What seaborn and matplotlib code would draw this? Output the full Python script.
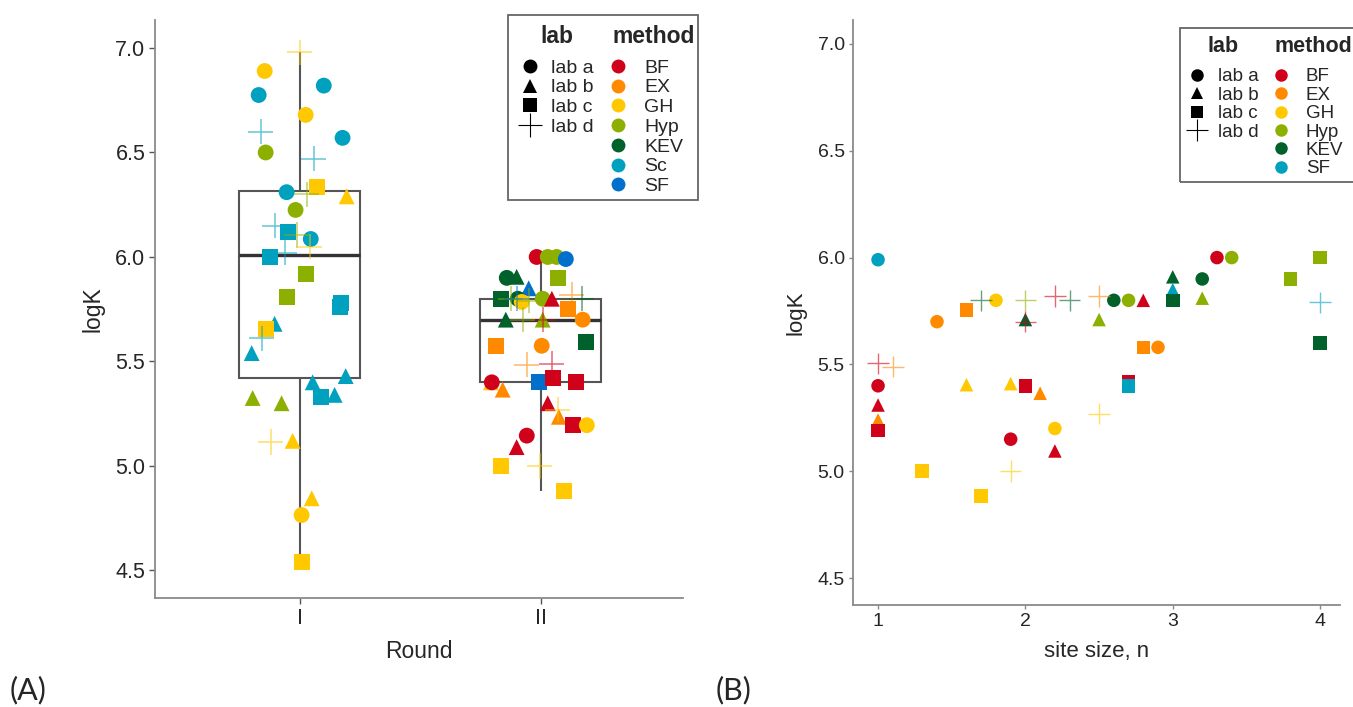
import pandas as pd
import matplotlib
matplotlib.use('Agg')
import matplotlib.pyplot as plt
from matplotlib.lines import Line2D
from matplotlib.patches import Rectangle
import seaborn as sns

# ---- panel A data: round I ----
r1_method = ['GH', 'GH', 'Sc', 'Sc', 'GH', 'Sc', 'Sc', 'Hyp', 'Sc', 'Sc',
             'GH', 'Hyp', 'GH', 'Hyp', 'Sc', 'Sc', 'Hyp', 'Sc', 'GH', 'Sc',
             'Sc', 'Hyp', 'Hyp', 'Sc', 'Sc', 'Sc', 'GH', 'Sc', 'Sc', 'Sc',
             'Sc', 'Sc', 'Sc', 'Hyp', 'Hyp', 'GH', 'GH', 'GH', 'GH', 'GH']
r1_lab = ['lab d', 'lab a', 'lab a', 'lab a', 'lab a', 'lab d', 'lab a', 'lab a', 'lab d', 'lab a',
          'lab c', 'lab d', 'lab b', 'lab a', 'lab d', 'lab c', 'lab d', 'lab a', 'lab d', 'lab c',
          'lab d', 'lab c', 'lab c', 'lab c', 'lab c', 'lab b', 'lab c', 'lab d', 'lab b', 'lab b',
          'lab b', 'lab c', 'lab b', 'lab b', 'lab b', 'lab d', 'lab b', 'lab b', 'lab a', 'lab c']
r1_logk = [6.98, 6.89, 6.775, 6.82, 6.68, 6.60, 6.57, 6.50, 6.47, 6.31,
           6.335, 6.30, 6.29, 6.225, 6.15, 6.12, 6.105, 6.086, 6.05, 6.00,
           6.02, 5.92, 5.81, 5.78, 5.76, 5.68, 5.655, 5.61, 5.54, 5.40,
           5.43, 5.33, 5.34, 5.325, 5.30, 5.115, 5.12, 4.845, 4.765, 4.54]
# horizontal jitter (fraction of category spacing)
r1_jitter = [0.0, -0.145, -0.170, 0.100, 0.025, -0.162, 0.178, -0.141, 0.058, -0.054,
             0.071, 0.029, 0.195, -0.017, -0.104, -0.050, -0.012, 0.046, 0.041, -0.124,
             -0.062, 0.025, -0.054, 0.170, 0.166, -0.104, -0.141, -0.158, -0.199, 0.054,
             0.191, 0.087, 0.145, -0.195, -0.075, -0.120, -0.029, 0.050, 0.008, 0.008]

# ---- panel A data: round II ----
r2_method = ['BF', 'Hyp', 'Hyp', 'SF', 'Hyp', 'KEV', 'KEV', 'SF', 'KEV', 'KEV',
             'GH', 'Hyp', 'BF', 'EX', 'KEV', 'Hyp', 'SF', 'Hyp', 'EX', 'KEV',
             'Hyp', 'BF', 'Hyp', 'EX', 'EX', 'EX', 'KEV', 'EX', 'BF', 'GH',
             'BF', 'EX', 'SF', 'BF', 'BF', 'BF', 'GH', 'EX', 'BF', 'GH',
             'BF', 'BF', 'GH', 'GH', 'GH']
r2_lab = ['lab a', 'lab a', 'lab a', 'lab a', 'lab c', 'lab a', 'lab b', 'lab b', 'lab c', 'lab a',
          'lab a', 'lab a', 'lab b', 'lab d', 'lab d', 'lab d', 'lab d', 'lab d', 'lab c', 'lab b',
          'lab b', 'lab d', 'lab d', 'lab a', 'lab c', 'lab a', 'lab c', 'lab d', 'lab d', 'lab b',
          'lab a', 'lab b', 'lab c', 'lab c', 'lab c', 'lab b', 'lab d', 'lab b', 'lab c', 'lab a',
          'lab a', 'lab b', 'lab c', 'lab d', 'lab c']
r2_logk = [6.00, 6.00, 6.00, 5.99, 5.90, 5.90, 5.905, 5.85, 5.80, 5.80,
           5.785, 5.80, 5.80, 5.82, 5.80, 5.80, 5.80, 5.79, 5.75, 5.70,
           5.70, 5.70, 5.70, 5.70, 5.575, 5.575, 5.595, 5.485, 5.49, 5.40,
           5.40, 5.365, 5.40, 5.42, 5.40, 5.30, 5.27, 5.235, 5.195, 5.195,
           5.145, 5.09, 5.00, 5.00, 4.88]
r2_jitter = [-0.017, 0.029, 0.066, 0.104, 0.071, -0.141, -0.100, -0.050, -0.166, -0.095,
             -0.079, 0.008, 0.046, 0.129, 0.170, -0.124, -0.100, -0.050, 0.112, -0.145,
             0.008, 0.008, -0.075, 0.174, -0.187, 0.004, 0.187, -0.058, 0.046, -0.207,
             -0.203, -0.158, -0.008, 0.050, 0.145, 0.029, 0.071, 0.075, 0.133, 0.191,
             -0.058, -0.100, -0.166, -0.004, 0.095]

rounds = ['I', 'II']

# ---- panel B data: logK vs site size ----
b_method = ['SF', 'EX', 'EX', 'KEV', 'GH', 'Hyp', 'BF', 'KEV', 'BF', 'KEV',
            'EX', 'Hyp', 'BF', 'EX', 'BF', 'BF', 'EX', 'BF', 'GH', 'GH',
            'BF', 'EX', 'GH', 'GH', 'BF', 'BF', 'GH', 'GH', 'GH', 'BF',
            'Hyp', 'Hyp', 'Hyp', 'KEV', 'KEV', 'SF', 'KEV', 'Hyp', 'KEV', 'Hyp',
            'BF', 'SF', 'EX', 'EX', 'KEV', 'BF', 'SF']
b_lab = ['lab a', 'lab a', 'lab c', 'lab d', 'lab a', 'lab d', 'lab d', 'lab b', 'lab d', 'lab d',
         'lab d', 'lab b', 'lab d', 'lab d', 'lab a', 'lab b', 'lab b', 'lab c', 'lab b', 'lab b',
         'lab c', 'lab b', 'lab d', 'lab a', 'lab a', 'lab b', 'lab c', 'lab d', 'lab c', 'lab a',
         'lab a', 'lab c', 'lab c', 'lab b', 'lab a', 'lab b', 'lab c', 'lab b', 'lab a', 'lab a',
         'lab b', 'lab d', 'lab c', 'lab a', 'lab c', 'lab c', 'lab c']
b_site = [1.0, 1.4, 1.6, 1.7, 1.8, 2.0, 2.0, 2.0, 2.2, 2.3,
          2.5, 2.5, 1.0, 1.1, 1.0, 1.0, 1.0, 1.0, 1.6, 1.9,
          2.0, 2.1, 2.5, 2.2, 1.9, 2.2, 1.3, 1.9, 1.7, 3.3,
          3.4, 4.0, 3.8, 3.0, 3.2, 3.0, 3.0, 3.2, 2.6, 2.7,
          2.8, 4.0, 2.8, 2.9, 4.0, 2.7, 2.7]
b_logk = [5.99, 5.70, 5.755, 5.80, 5.80, 5.80, 5.70, 5.71, 5.82, 5.80,
          5.82, 5.71, 5.505, 5.49, 5.40, 5.31, 5.24, 5.19, 5.405, 5.41,
          5.40, 5.365, 5.27, 5.20, 5.15, 5.095, 5.00, 5.00, 4.885, 6.00,
          6.00, 6.00, 5.90, 5.91, 5.90, 5.85, 5.80, 5.81, 5.80, 5.80,
          5.80, 5.79, 5.58, 5.58, 5.60, 5.42, 5.40]

methods_a = ['BF', 'EX', 'GH', 'Hyp', 'KEV', 'Sc', 'SF']
methods_b = ['BF', 'EX', 'GH', 'Hyp', 'KEV', 'SF']
labs = ['lab a', 'lab b', 'lab c', 'lab d']

pal_a = {'BF': '#D0021B', 'EX': '#FF8A00', 'GH': '#FFC800', 'Hyp': '#8DB000',
         'KEV': '#00622A', 'Sc': '#00A1BF', 'SF': '#0070CC'}
pal_b = dict(pal_a, SF='#00A1BF')
shapes = {'lab a': 'o', 'lab b': '^', 'lab c': 's'}

df_a = pd.DataFrame({
    'method': r1_method + r2_method,
    'lab': r1_lab + r2_lab,
    'logK': r1_logk + r2_logk,
    'Round': ['I'] * len(r1_logk) + ['II'] * len(r2_logk),
    'jitter': r1_jitter + r2_jitter,
})
df_a['pos'] = df_a['Round'].map({r: i for i, r in enumerate(rounds)})
df_a['x'] = df_a['pos'] + df_a['jitter']

df_b = pd.DataFrame({'method': b_method, 'lab': b_lab, 'site': b_site, 'logK': b_logk})

sns.set_style('white')
plt.rcParams['font.family'] = ['Liberation Sans', 'DejaVu Sans']

fig = plt.figure(figsize=(13.53, 7.07), dpi=100)
ax1 = fig.add_axes([155 / 1353, 1 - 598 / 707, 528 / 1353, 578 / 707])
ax2 = fig.add_axes([853 / 1353, 1 - 605 / 707, 487 / 1353, 585 / 707])

# ---- panel A ----
sns.boxplot(data=df_a, x='pos', y='logK', native_scale=True, width=0.5,
            color='white', linecolor='#555555', linewidth=1.5, fliersize=0, whis=1.5,
            showcaps=False, medianprops={'color': '#333333', 'linewidth': 2.4}, ax=ax1)

filled_a = df_a[df_a['lab'] != 'lab d']
sns.scatterplot(data=filled_a, x='x', y='logK', hue='method', style='lab',
                palette=pal_a, markers=shapes, s=130, linewidth=0,
                legend=False, zorder=3, ax=ax1)
plus_a = df_a[df_a['lab'] == 'lab d']
sns.scatterplot(data=plus_a, x='x', y='logK', hue='method', palette=pal_a,
                marker='+', s=330, linewidth=1.1, alpha=0.6,
                legend=False, zorder=3, ax=ax1)

ax1.set_xlim(-0.60, 1.59)
ax1.set_ylim(4.368, 7.134)
ax1.set_xticks(range(len(rounds)))
ax1.set_xticklabels(rounds)
ax1.set_yticks([4.5, 5.0, 5.5, 6.0, 6.5, 7.0])
ax1.set_xlabel('Round', fontsize=16.5, labelpad=8)
ax1.set_ylabel('logK', fontsize=16.5, labelpad=8)
ax1.tick_params(labelsize=15.5, length=4, width=1, color='#555555', direction='out',
                bottom=True, left=True, pad=3)

# ---- panel B ----
filled_b = df_b[df_b['lab'] != 'lab d']
sns.scatterplot(data=filled_b, x='site', y='logK', hue='method', style='lab',
                palette=pal_b, markers=shapes, s=95, linewidth=0,
                legend=False, zorder=3, ax=ax2)
plus_b = df_b[df_b['lab'] == 'lab d']
sns.scatterplot(data=plus_b, x='site', y='logK', hue='method', palette=pal_b,
                marker='+', s=240, linewidth=1.0, alpha=0.6,
                legend=False, zorder=3, ax=ax2)

ax2.set_xlim(0.83, 4.135)
ax2.set_ylim(4.374, 7.112)
ax2.set_xticks([1, 2, 3, 4])
ax2.set_yticks([4.5, 5.0, 5.5, 6.0, 6.5, 7.0])
ax2.set_xlabel('site size, n', fontsize=16, labelpad=8)
ax2.set_ylabel('logK', fontsize=16, labelpad=8)
ax2.tick_params(labelsize=14, length=3, width=1, color='#888888', direction='out',
                bottom=True, left=True, pad=3)

for ax in (ax1, ax2):
    sns.despine(ax=ax)
    for side in ('left', 'bottom'):
        ax.spines[side].set_color('#8a8a8a')
        ax.spines[side].set_linewidth(1.3)


# ---- legends: two columns (lab / method) inside a common frame ----
def add_legends(ax, methods, pal, lab_xy, meth_xy, box, fs, tfs, ms, lsp, tsep):
    lab_handles = [Line2D([], [], marker=shapes.get(l, '+'), color='black', linestyle='',
                          markersize=ms * (1.7 if l == 'lab d' else 1.0),
                          markeredgewidth=0.8 if l == 'lab d' else 0)
                   for l in labs]
    meth_handles = [Line2D([], [], marker='o', color=pal[m], linestyle='',
                           markersize=ms, markeredgewidth=0) for m in methods]
    common = dict(frameon=False, loc='upper left', bbox_transform=fig.transFigure,
                  labelspacing=lsp, fontsize=fs, borderaxespad=0, borderpad=0,
                  title_fontproperties={'weight': 'bold', 'size': tfs})
    leg1 = ax.legend(lab_handles, labs, title='lab', bbox_to_anchor=lab_xy,
                     handlelength=1.0, handletextpad=0.6, **common)
    leg1._legend_box.sep = tsep
    ax.add_artist(leg1)
    leg2 = ax.legend(meth_handles, methods, title='method', bbox_to_anchor=meth_xy,
                     alignment='left', handlelength=0.6, handletextpad=1.05, **common)
    leg2._legend_box.sep = tsep
    x0, y0, x1, y1 = box
    fig.add_artist(Rectangle((x0 / 1353, 1 - y1 / 707), (x1 - x0) / 1353, (y1 - y0) / 707,
                             transform=fig.transFigure, fill=False,
                             edgecolor='#666666', linewidth=1.3))


add_legends(ax1, methods_a, pal_a, (520 / 1353, 1 - 25 / 707), (612 / 1353, 1 - 25 / 707),
            (508, 15, 698, 200), 14, 16.5, 10, 0.11, 8)
add_legends(ax2, methods_b, pal_b, (1188 / 1353, 1 - 36 / 707), (1275 / 1353, 1 - 36 / 707),
            (1180, 28, 1365, 182), 13.5, 15.5, 9, 0.07, 8)

fig.text(10 / 1353, 1 - 690 / 707, '(A)', fontsize=22, family=['Lato', 'DejaVu Sans'],
         va='center', ha='left')
fig.text(716 / 1353, 1 - 690 / 707, '(B)', fontsize=22, family=['Lato', 'DejaVu Sans'],
         va='center', ha='left')

fig.savefig('out.png', dpi=100)
